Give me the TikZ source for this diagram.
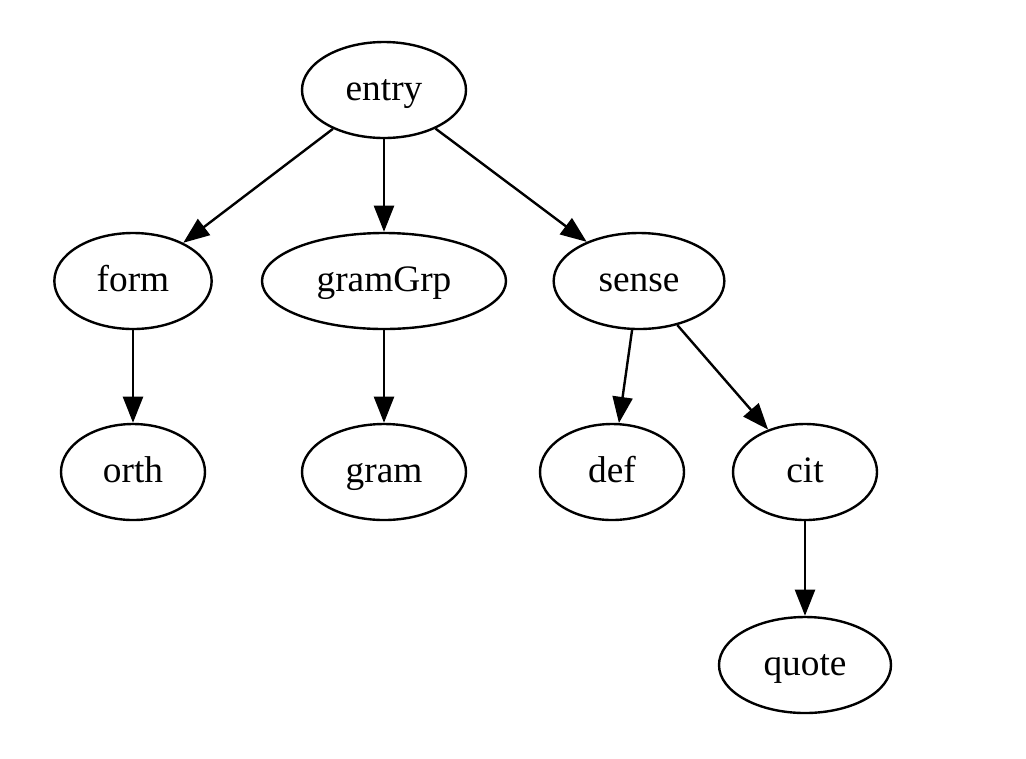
\documentclass[tikz,border=0pt]{standalone}
\usepackage{fontspec}
\setmainfont{Liberation Serif}
\usetikzlibrary{arrows.meta,shapes.geometric}
\begin{document}
\begin{tikzpicture}[x=0.375pt,y=-0.375pt,
  nd/.style={draw,ellipse,line width=0.9pt,inner sep=0pt,font=\fontsize{14pt}{16pt}\selectfont,text height=10pt,text depth=1.8pt,minimum height=36pt},
  edge/.style={line width=0.9pt,-{Triangle[length=9.8pt,width=7.5pt]}}]
\useasboundingbox (0,0) rectangle (1026,758);
\node[nd,minimum width=61.5pt] (entry) at (384,90) {entry};
\node[nd,minimum width=59pt] (form) at (133,281) {form};
\node[nd,minimum width=91.5pt] (gramGrp) at (384,281) {gramGrp};
\node[nd,minimum width=64pt] (sense) at (639,281) {sense};
\node[nd,minimum width=54pt] (orth) at (133,472) {orth};
\node[nd,minimum width=61.5pt] (gram) at (384,472) {gram};
\node[nd,minimum width=54pt] (def) at (612,472) {def};
\node[nd,minimum width=54pt] (cit) at (805,472) {cit};
\node[nd,minimum width=64.5pt] (quote) at (805,665) {quote};
\draw[edge] (entry) -- (form);
\draw[edge] (entry) -- (gramGrp);
\draw[edge] (entry) -- (sense);
\draw[edge] (form) -- (orth);
\draw[edge] (gramGrp) -- (gram);
\draw[edge] (sense) -- (def);
\draw[edge] (sense) -- (cit);
\draw[edge] (cit) -- (quote);
\end{tikzpicture}
\end{document}
